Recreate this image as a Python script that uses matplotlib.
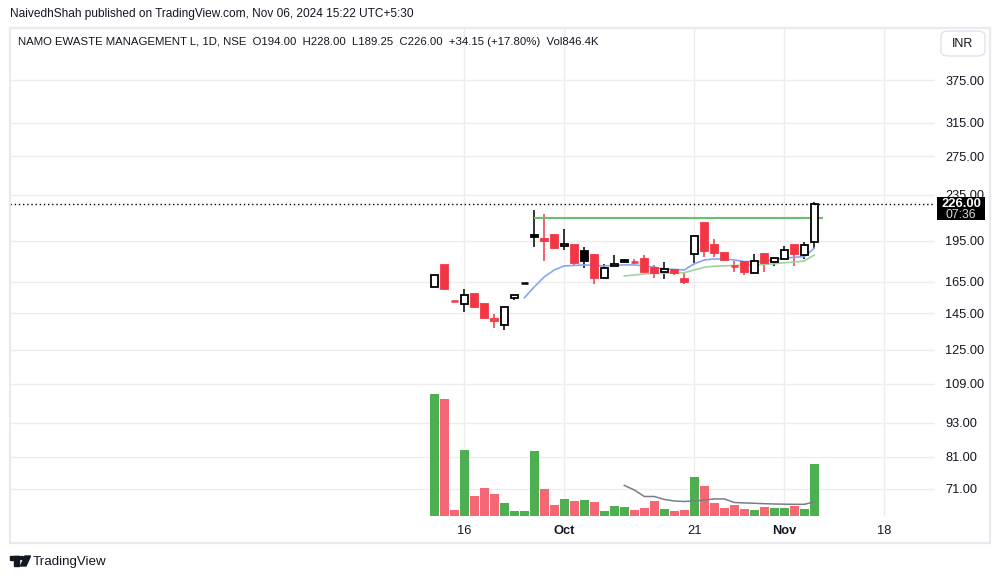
import matplotlib
matplotlib.use("Agg")
import matplotlib.pyplot as plt
from matplotlib.patches import Rectangle, FancyBboxPatch, Polygon, Circle
from matplotlib.ticker import FixedLocator, NullLocator, FuncFormatter

# ---------------- data ----------------
opens = [161.6, 176.7, 152.8, 150.6, 157.0, 150.7, 140.5, 138.3, 154.7, 164.0,
         199.6, 196.4, 199.6, 190.9, 191.6, 187.0, 184.0, 167.4, 175.7, 180.3,
         179.4, 181.0, 174.3, 171.5, 173.1, 167.1, 184.5, 209.6, 191.6, 185.3,
         176.2, 178.6, 170.8, 184.4, 178.6, 181.3, 191.6, 184.0, 194.0]
highs = [169.6, 176.7, 152.8, 160.2, 157.0, 150.7, 144.8, 148.7, 156.2, 164.0,
         221.0, 217.4, 199.6, 204.3, 191.6, 189.9, 184.4, 177.2, 184.0, 181.0,
         180.8, 184.0, 176.7, 179.1, 173.1, 171.2, 198.8, 209.6, 196.1, 185.3,
         179.6, 178.6, 184.4, 185.7, 182.7, 190.9, 191.6, 194.3, 228.0]
lows = [161.6, 160.2, 152.4, 145.6, 148.5, 142.6, 136.5, 135.5, 153.4, 163.8,
        189.9, 179.8, 188.3, 187.8, 176.2, 174.7, 163.5, 167.4, 175.7, 178.6,
        177.2, 171.2, 167.8, 166.9, 169.6, 163.5, 178.3, 182.7, 182.7, 179.8,
        171.9, 169.6, 170.8, 171.9, 176.2, 181.3, 176.2, 180.8, 189.25]
closes = [169.6, 160.2, 152.4, 156.2, 149.1, 142.6, 141.8, 148.7, 156.2, 164.0,
          197.7, 195.0, 189.5, 192.4, 177.9, 179.8, 167.8, 174.3, 177.2, 179.1,
          178.9, 171.9, 171.2, 173.8, 171.2, 165.1, 198.8, 187.0, 185.3, 180.3,
          175.9, 171.9, 179.8, 177.9, 181.6, 187.8, 184.4, 191.6, 226.0]
volumes_k = [1986, 1905, 98, 1074, 326, 456, 358, 212, 81, 81,
             1058, 440, 179, 277, 244, 260, 228, 81, 163, 147,
             98, 135, 244, 114, 81, 98, 640, 493, 212, 135,
             184, 114, 98, 147, 130, 130, 168, 114, 846.4]

ma_fast_start = 9
ma_fast = [154.5, 161.6, 168.3, 173.1, 176.0, 176.3, 176.7, 176.3, 176.0, 176.3,
           176.7, 176.7, 176.0, 175.0, 173.8, 173.5, 173.1, 177.5, 180.3, 181.0,
           181.0, 180.3, 179.1, 179.1, 179.1, 180.7, 181.6, 182.3, 182.7, 189.2]
ma_slow_start = 19
ma_slow = [168.9, 169.6, 170.3, 170.7, 170.8, 171.1, 171.2, 173.1, 175.0, 175.8,
           176.0, 176.3, 176.5, 176.7, 177.1, 177.5, 178.3, 178.7, 179.6, 184.0]
vol_ma_start = 19
vol_ma_k = [497, 423, 317, 317, 269, 244, 236, 244, 260, 277,
            277, 220, 212, 207, 200, 195, 192, 190, 190, 228]

resistance_level = 213.6
resistance_span = [10, 38.9]
last_price = 226.0
countdown = "07:36"

price_ticks = [375, 315, 275, 235, 195, 165, 145, 125, 109, 93, 81, 71]
x_tick_pos = [3, 13, 26, 35, 45]
x_tick_labels = ["16", "Oct", "21", "Nov", "18"]
x_tick_bold = [False, True, False, True, False]

header = "NaivedhShah published on TradingView.com, Nov 06, 2024 15:22 UTC+5:30"
legend = ("NAMO EWASTE MANAGEMENT L, 1D, NSE  O194.00  H228.00  L189.25  "
          "C226.00  +34.15 (+17.80%)  Vol846.4K")
currency = "INR"

# ---------------- style ----------------
RED = "#F23645"
BLACK = "#000000"
VOL_GREEN = "#4CAF50"
VOL_RED = "#F56775"
GRID = "#EDEDF0"
TEXT = "#131722"
FONT = "Liberation Sans"
plt.rcParams["font.family"] = [FONT, "DejaVu Sans"]

W, H = 1000, 579
fig = plt.figure(figsize=(W / 100, H / 100), dpi=100)


def fx(x):
    return x / W


def fy(y):
    return 1 - y / H


L, R, T, B = 10, 935, 29, 516
ax = fig.add_axes([fx(L), fy(B), fx(R) - fx(L), fy(T) - fy(B)])
ax_v = ax.twinx()

ax.set_yscale("log")
ax.set_ylim(63.6, 461.5)
ax.set_xlim(-42.43, 50.07)

ax.yaxis.set_major_locator(FixedLocator(price_ticks))
ax.yaxis.set_minor_locator(NullLocator())
ax.yaxis.set_major_formatter(FuncFormatter(lambda v, p: f"{v:.2f}"))
ax.yaxis.tick_right()
ax.tick_params(axis="y", length=0, pad=7.5, labelsize=9.2, labelcolor=TEXT)
ax.set_xticks(x_tick_pos)
ax.set_xticklabels(x_tick_labels)
for lbl, b in zip(ax.get_xticklabels(), x_tick_bold):
    if b:
        lbl.set_fontweight("bold")
ax.tick_params(axis="x", length=0, pad=6.5, labelsize=9.3, labelcolor=TEXT)
ax.grid(True, color=GRID, linewidth=1)
ax.set_axisbelow(True)
for sp in ax.spines.values():
    sp.set_visible(False)
for sp in ax_v.spines.values():
    sp.set_visible(False)

n = len(closes)
# candles
for i in range(n):
    o, h, l, c = opens[i], highs[i], lows[i], closes[i]
    prev = closes[i - 1] if i > 0 else o
    col = RED if c < prev else BLACK
    ax.vlines(i, l, h, color=col, lw=1.1, zorder=2)
    if abs(c - o) < 0.6:
        ax.hlines((o + c) / 2, i - 0.35, i + 0.35, color=col, lw=1.8, zorder=3)
    else:
        ax.add_patch(Rectangle((i - 0.35, min(o, c)), 0.7, abs(c - o),
                               facecolor="white" if c > o else col,
                               edgecolor=col, lw=1.3, zorder=3))

# moving averages
ax.plot(range(ma_fast_start, ma_fast_start + len(ma_fast)), ma_fast,
        color="#86A5F6", lw=1.2, zorder=2.5)
ax.plot(range(ma_slow_start, ma_slow_start + len(ma_slow)), ma_slow,
        color="#9ED59E", lw=1.2, zorder=2.5)
ax.hlines(resistance_level, resistance_span[0], resistance_span[1],
          color="#6CBF6F", lw=1.5, zorder=2.5)
ax.axhline(last_price, color=BLACK, lw=1, ls=(0, (1, 2)), zorder=4)

# volume
vcols = []
for i in range(n):
    prev = closes[i - 1] if i > 0 else opens[i]
    vcols.append(VOL_RED if closes[i] < prev else VOL_GREEN)
ax_v.bar(range(n), volumes_k, width=0.9, color=vcols, zorder=2)
ax_v.plot(range(vol_ma_start, vol_ma_start + len(vol_ma_k)), vol_ma_k,
          color="#7A7D86", lw=1.1, zorder=3)
ax_v.set_ylim(0, 7912)
ax_v.set_yticks([])

# outer frame
fig.patches.append(Rectangle((fx(10), fy(543)), fx(990) - fx(10), fy(28) - fy(543),
                             transform=fig.transFigure, fill=False,
                             edgecolor="#E9E9EF", lw=1.6))

# header texts
fig.text(fx(10), fy(14), header, fontsize=8.6, va="center", ha="left", color=TEXT)
fig.text(fx(18), fy(42), legend, fontsize=8.2, va="center", ha="left", color=TEXT)

# currency button
fig.patches.append(FancyBboxPatch((fx(941), fy(56)), fx(44), fy(0) - fy(25),
                                  boxstyle="round,pad=0,rounding_size=0.008",
                                  transform=fig.transFigure, facecolor="white",
                                  edgecolor="#E0E3EB", lw=1))
fig.text(fx(963), fy(44), currency, fontsize=9, ha="center", va="center", color=TEXT)

# last price label
fig.patches.append(Rectangle((fx(937), fy(220)), fx(48), fy(0) - fy(23),
                             transform=fig.transFigure, facecolor="black",
                             edgecolor="none", zorder=5))
fig.text(fx(961), fy(204), f"{last_price:.2f}", fontsize=9.4, fontweight="bold",
         color="white", ha="center", va="center", zorder=6)
fig.text(fx(961), fy(214.5), countdown, fontsize=8.8, color="#DADADA",
         ha="center", va="center", zorder=6)

# TradingView logo
logo_col = "#131722"
fig.patches.append(Rectangle((fx(10), fy(560)), fx(9), fy(0) - fy(4),
                             transform=fig.transFigure, color=logo_col))
fig.patches.append(Rectangle((fx(14), fy(566)), fx(5), fy(0) - fy(10),
                             transform=fig.transFigure, color=logo_col))
fig.patches.append(Circle((fx(22), fy(558)), 0.0025, transform=fig.transFigure,
                          color=logo_col))
fig.patches.append(Polygon([(fx(25), fy(556)), (fx(30.5), fy(556)),
                            (fx(26), fy(566)), (fx(20.5), fy(566))],
                           closed=True, transform=fig.transFigure, color=logo_col))
fig.text(fx(33), fy(561.5), "TradingView", fontsize=9.6, ha="left", va="center",
         color=TEXT)

fig.savefig("out.png", dpi=100, facecolor="white")
